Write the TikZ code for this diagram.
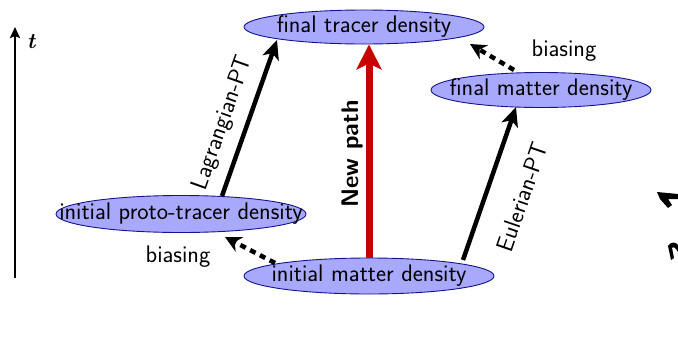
\documentclass[tikz,border=0pt]{standalone}
\usepackage{fontspec}
\usetikzlibrary{arrows.meta,shapes.geometric}
\definecolor{ellfill}{RGB}{168,168,252}
\definecolor{elldraw}{RGB}{20,20,140}
\definecolor{pathred}{RGB}{200,0,0}
\newcommand{\ztxt}[1]{\makebox[0pt]{#1}}
\begin{document}
\begin{tikzpicture}[x=1pt,y=-1pt,
  ell/.style={ellipse,draw=elldraw,fill=ellfill,line width=0.9pt,inner sep=0pt,font=\sffamily\fontsize{24}{28}\selectfont},
  bigarrow/.style={line width=4.5pt,-{Stealth[length=19pt,width=17pt,inset=5pt]}},
  biasarrow/.style={line width=4.5pt,dash pattern=on 6pt off 5pt,-{Stealth[length=16pt,width=16pt,inset=5pt]}},
  lbl/.style={font=\sffamily\fontsize{24}{28}\selectfont}]
\useasboundingbox (0,0) rectangle (678,346);
\node[ell,minimum width=240pt,minimum height=34pt] (ft) at (364,27) {\ztxt{final tracer density}};
\node[ell,minimum width=220pt,minimum height=35pt] (fm) at (541,90) {\ztxt{final matter density}};
\node[ell,minimum width=250pt,minimum height=37pt] (ip) at (181,214) {\ztxt{initial proto-tracer density}};
\node[ell,minimum width=250pt,minimum height=36pt] (im) at (369,276) {\ztxt{initial matter density}};
% time axis
\coordinate (t0) at (15,278);
\coordinate (t1) at (15,27);
\draw[line width=2.6pt,-{Stealth[length=11pt,width=10pt,inset=2pt]}] (t0) -- (t1);
\node[font=\rmfamily\bfseries\itshape\fontsize{22}{26}\selectfont] (tl) at (31,42) {t};
% arrows
\draw[bigarrow] (222,196) -- (277,40);
\node[lbl,rotate=70.5] (lag) at (223,123) {Lagrangian-PT};
\draw[bigarrow] (463,260) -- (516,107);
\node[lbl,rotate=71] (eul) at (522,197) {Eulerian-PT};
\draw[line width=7pt,draw=pathred,-{Stealth[length=25pt,width=25pt,inset=6pt]}] (im.north) -- (im.north |- ft.south);
\node[font=\sffamily\bfseries\fontsize{24}{28}\selectfont,rotate=90] (np) at (352,154) {New path};
\draw[biasarrow] (514,70) -- (470,44);
\node[lbl] (b1) at (564,51) {biasing};
\draw[biasarrow] (275,263) -- (225,237);
\node[lbl] (b2) at (178,257) {biasing};
% clipped fragments on the right edge
\fill (657,192) -- (678,194) -- (678,199) -- (668,199) -- (672,205) -- (668,208) -- (660,199) -- cycle;
\fill (668,246) .. controls (671,241) and (676,242) .. (678,245) -- (678,252) .. controls (676,248) and (673,246) .. (672,248) -- (674,258) -- (671,260) -- cycle;
\end{tikzpicture}
\end{document}
